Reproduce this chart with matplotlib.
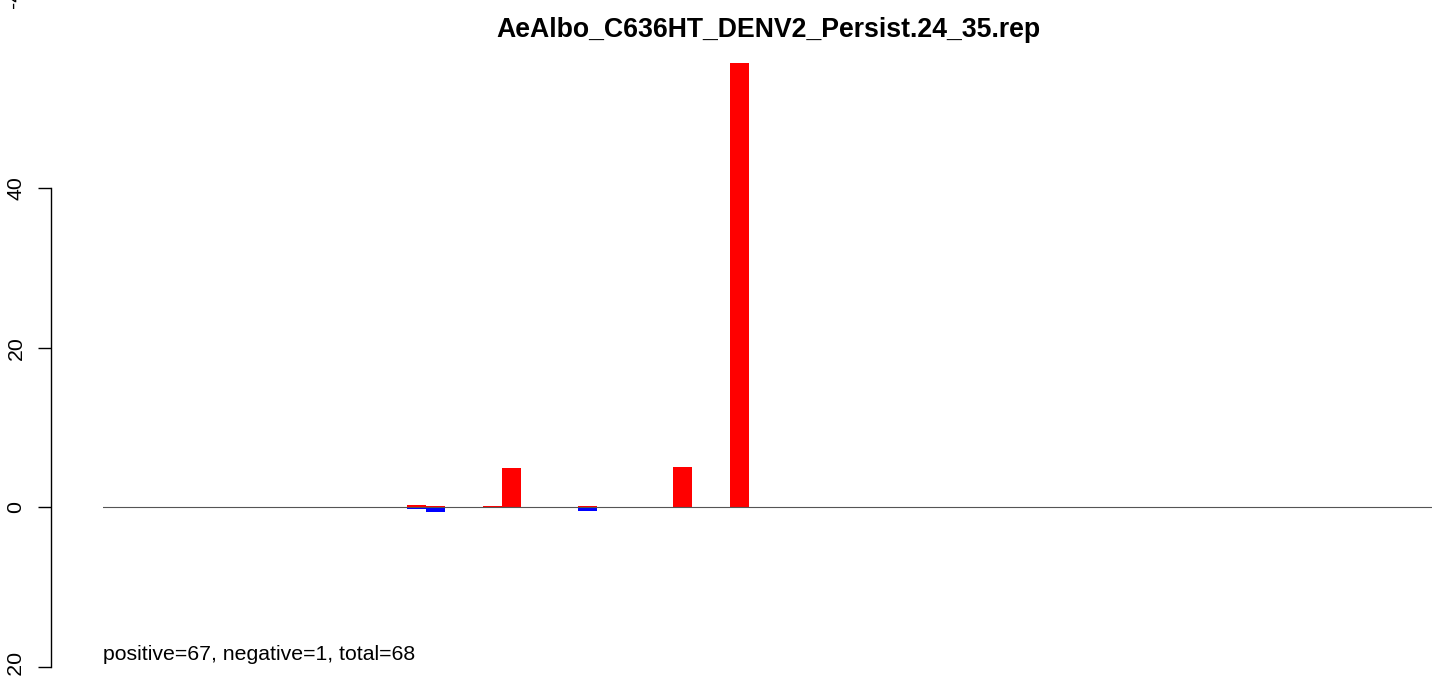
import matplotlib
matplotlib.use("Agg")
import matplotlib.pyplot as plt

plt.rcParams['font.family'] = ['Liberation Sans', 'DejaVu Sans']

# data: bar index -> value
n_bars = 70
pos_idx = [16, 17, 20, 21, 25, 30, 33]
pos_val = [0.29, 0.16, 0.16, 4.93, 0.16, 5.05, 55.7]
neg_idx = [16, 17, 21, 25]
neg_val = [-0.2, -0.55, -0.05, -0.46]
y_ticks = [-20, 0, 20, 40]
title = "AeAlbo_C636HT_DENV2_Persist.24_35.rep"
note = "positive=67, negative=1, total=68"

W, H = 1444, 676
fig = plt.figure(figsize=(W / 100, H / 100), dpi=100)
ax = fig.add_axes([103 / W, 0, 1329 / W, 1])

# pixel scale: 0 at y=507.3, 7.975 px per unit
zero_px, ppu = 507.3, 7.975
ax.set_ylim(-(H - zero_px) / ppu, zero_px / ppu)
ax.set_xlim(0, 1329 / 19)

ax.bar(pos_idx, pos_val, width=1, align='edge', color='#ff0000', edgecolor='none')
ax.bar(neg_idx, neg_val, width=1, align='edge', color='#0000ff', edgecolor='none')
ax.axhline(0, color='#555555', lw=0.8)

ax.text(0, -18.5, note, fontsize=15.3, ha='left', va='center')

# axis like R
for s in ['top', 'right', 'bottom']:
    ax.spines[s].set_visible(False)
ax.spines['left'].set_position(('outward', 52 * 0.72))
ax.spines['left'].set_bounds(-20, 40)
ax.spines['left'].set_linewidth(1.0)
ax.set_yticks(y_ticks)
ax.set_yticklabels([str(t) for t in y_ticks], rotation=90, va='center', fontsize=15.3)
ax.tick_params(axis='y', length=9.4, width=1.0, pad=9)
ax.set_xticks([])
ax.patch.set_visible(False)

fig.text(768 / W, 1 - 30 / H, title, fontsize=19.2, fontweight='bold', ha='center', va='center')
# clipped label at the top-left corner, as in the original
fig.text(14 / W, 1 + 7 / H, "-40", fontsize=15.3, rotation=90, ha='center', va='center')

fig.savefig("out.png", dpi=100)
